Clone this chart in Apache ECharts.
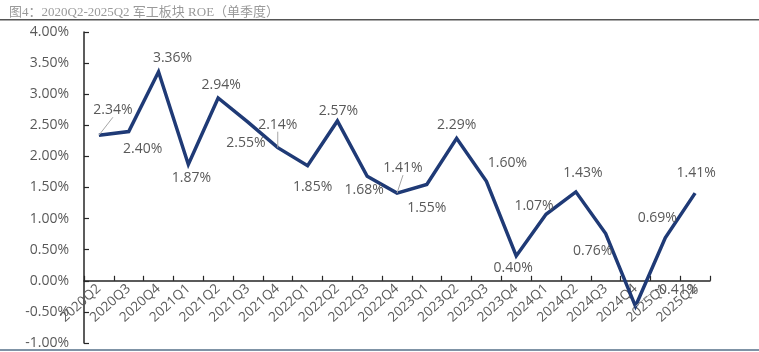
<!DOCTYPE html>
<html>
<head>
<meta charset="utf-8">
<script src="https://cdn.jsdelivr.net/npm/echarts@6/dist/echarts.min.js"></script>
<style>
html,body{margin:0;padding:0;background:#fff;}
#c{width:759px;height:352px;}
</style>
</head>
<body>
<div id="c"></div>
<script>
const titleText = '图4：2020Q2-2025Q2 军工板块 ROE（单季度）';
const categories = ['2020Q2','2020Q3','2020Q4','2021Q1','2021Q2','2021Q3','2021Q4','2022Q1','2022Q2','2022Q3','2022Q4','2023Q1','2023Q2','2023Q3','2023Q4','2024Q1','2024Q2','2024Q3','2024Q4','2025Q1','2025Q2'];
const roe = [2.34, 2.40, 3.36, 1.87, 2.94, 2.55, 2.14, 1.85, 2.57, 1.68, 1.41, 1.55, 2.29, 1.60, 0.40, 1.07, 1.43, 0.76, -0.41, 0.69, 1.41];
const yTicks = {min: -1, max: 4, interval: 0.5};

// label placement (style only): offset of label centre from its point, px
const labelOffsets = [[14,-25],[14,17],[14,-14],[3,14],[3,-13],[-2,21],[0,-23],[5,21],[1,-10],[-3,14],[6,-25],[0,24],[0,-13],[21,-18],[-3,12],[-12,-8],[7,-19],[-13,17],[41,-16],[-8,-20],[1,-20]];
const leaderLabels = [0, 6, 10, 18];

const GRID = {left: 84, right: 49, top: 32, bottom: 9};
const PLOT_H = 352 - GRID.top - GRID.bottom;
const zeroOffset = -PLOT_H * (0 - yTicks.min) / (yTicks.max - yTicks.min);

const chart = echarts.init(document.getElementById('c'), null, {renderer:'canvas'});
const FONT = '"Open Sans", "Noto Sans CJK SC", sans-serif';
const seriesData = roe.map((v,i)=>({
  value: v,
  labelLine: {show: leaderLabels.indexOf(i) >= 0}
}));
chart.setOption({
  animation: false,
  backgroundColor: '#ffffff',
  title: {
    text: titleText, left: 4, top: 1,
    textStyle: {fontSize: 13, fontWeight: 'normal', color: '#9a9a9a', fontFamily: '"Liberation Serif", "Noto Sans CJK SC", serif'}
  },
  graphic: [
    {type:'rect', left:0, top:19, shape:{width:759, height:1.5}, style:{fill:'#555'}},
    {type:'rect', left:0, top:349, shape:{width:759, height:2}, style:{fill:'#7f93a6'}}
  ],
  grid: Object.assign({containLabel: false, outerBoundsMode: 'none'}, GRID),
  xAxis: {
    type: 'category',
    data: categories,
    boundaryGap: true,
    offset: zeroOffset,
    axisLine: {onZero: false, lineStyle: {color: '#262626', width: 1.5}},
    axisTick: {show: true, inside: true, length: 5, lineStyle: {color: '#262626', width: 1.2}},
    axisLabel: {rotate: 42, margin: 6, fontSize: 13.5, color: '#595959', fontFamily: FONT, interval: 0},
    splitLine: {show: false}
  },
  yAxis: {
    type: 'value',
    min: yTicks.min, max: yTicks.max, interval: yTicks.interval,
    axisLine: {show: true, lineStyle: {color: '#262626', width: 1.5}},
    axisTick: {show: true, inside: true, length: 5, lineStyle: {color: '#262626', width: 1.2}},
    axisLabel: {fontSize: 14, color: '#595959', fontFamily: FONT, margin: 15, formatter: v => v.toFixed(2) + '%'},
    splitLine: {show: false}
  },
  series: [{
    type: 'line',
    data: seriesData,
    showSymbol: true,
    showAllSymbol: true,
    symbol: 'circle', symbolSize: 0.1,
    lineStyle: {color: '#1f3a76', width: 3.5, join: 'miter'},
    itemStyle: {color: 'rgba(31,58,118,0)', borderWidth: 0},
    emphasis: {disabled: true},
    labelLine: {show: false, lineStyle: {color: '#a6a6a6', width: 1}},
    labelLayout: p => ({
      dx: labelOffsets[p.dataIndex][0],
      dy: labelOffsets[p.dataIndex][1],
      hideOverlap: false
    }),
    label: {
      show: true, position: 'inside',
      fontSize: 14, color: '#595959', fontFamily: FONT,
      formatter: p => p.value.toFixed(2) + '%'
    }
  }]
});
</script>
</body>
</html>
